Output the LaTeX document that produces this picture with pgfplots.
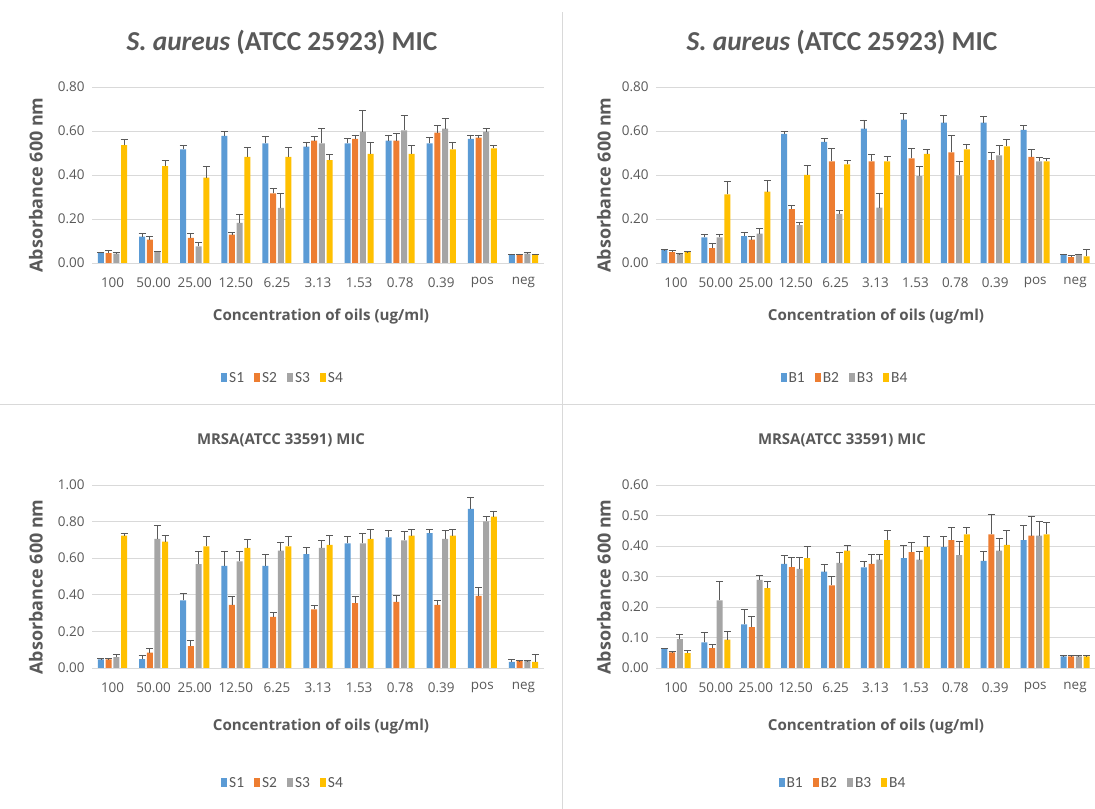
\documentclass[border=0pt]{standalone}
\usepackage{fontspec}
\setmainfont{Carlito}
\newfontfamily\labfont{Open Sans}
\usepackage{pgfplots}
\pgfplotsset{compat=1.18}
\usepackage{pgfplotstable}
\definecolor{c1}{HTML}{5B9BD5}
\definecolor{c2}{HTML}{ED7D31}
\definecolor{c3}{HTML}{A5A5A5}
\definecolor{c4}{HTML}{FFC000}
\definecolor{txt}{HTML}{595959}
\definecolor{gridc}{HTML}{D9D9D9}
\definecolor{errc}{HTML}{595959}

% x a ea b eb c ec d ed
\pgfplotstableread{
x a ea b eb c ec d ed
0 0.045 0.005 0.045 0.013 0.043 0.004 0.536 0.026
1 0.120 0.014 0.106 0.014 0.050 0.004 0.440 0.028
2 0.517 0.018 0.114 0.020 0.076 0.017 0.388 0.050
3 0.578 0.018 0.129 0.011 0.182 0.038 0.482 0.045
4 0.544 0.032 0.316 0.021 0.251 0.065 0.482 0.045
5 0.529 0.021 0.556 0.020 0.544 0.066 0.468 0.026
6 0.544 0.024 0.564 0.018 0.597 0.095 0.496 0.054
7 0.556 0.026 0.556 0.034 0.603 0.069 0.496 0.039
8 0.544 0.026 0.593 0.030 0.611 0.046 0.517 0.033
9 0.564 0.018 0.570 0.012 0.597 0.013 0.521 0.014
10 0.038 0.003 0.038 0.003 0.043 0.004 0.038 0.003
}\tA
\pgfplotstableread{
x a ea b eb c ec d ed
0 0.058 0.003 0.049 0.009 0.040 0.003 0.049 0.003
1 0.116 0.014 0.068 0.020 0.116 0.014 0.312 0.060
2 0.122 0.018 0.106 0.014 0.134 0.021 0.324 0.053
3 0.587 0.009 0.245 0.018 0.172 0.010 0.400 0.045
4 0.550 0.018 0.462 0.058 0.223 0.017 0.448 0.020
5 0.611 0.039 0.462 0.032 0.252 0.064 0.462 0.024
6 0.652 0.026 0.476 0.044 0.395 0.043 0.496 0.018
7 0.638 0.034 0.503 0.077 0.398 0.062 0.517 0.024
8 0.638 0.026 0.468 0.034 0.489 0.046 0.530 0.031
9 0.605 0.018 0.482 0.032 0.462 0.017 0.462 0.012
10 0.036 0.005 0.027 0.005 0.038 0.003 0.030 0.032
}\tB
\pgfplotstableread{
x a ea b eb c ec d ed
0 0.047 0.003 0.047 0.003 0.060 0.015 0.723 0.014
1 0.049 0.017 0.084 0.022 0.706 0.071 0.690 0.036
2 0.370 0.039 0.119 0.029 0.568 0.069 0.664 0.055
3 0.558 0.079 0.345 0.045 0.582 0.055 0.657 0.044
4 0.558 0.062 0.279 0.022 0.641 0.047 0.664 0.055
5 0.622 0.039 0.321 0.022 0.657 0.038 0.673 0.053
6 0.681 0.038 0.354 0.036 0.681 0.054 0.706 0.053
7 0.714 0.036 0.361 0.037 0.697 0.048 0.723 0.036
8 0.737 0.022 0.345 0.022 0.706 0.044 0.723 0.036
9 0.869 0.062 0.394 0.048 0.801 0.026 0.827 0.031
10 0.033 0.016 0.037 0.003 0.037 0.003 0.033 0.042
}\tC
\pgfplotstableread{
x a ea b eb c ec d ed
0 0.062 0.002 0.051 0.003 0.095 0.016 0.049 0.008
1 0.084 0.034 0.065 0.012 0.222 0.063 0.093 0.028
2 0.143 0.048 0.134 0.036 0.289 0.014 0.262 0.023
3 0.341 0.027 0.331 0.032 0.325 0.038 0.360 0.037
4 0.316 0.022 0.271 0.028 0.345 0.034 0.385 0.018
5 0.330 0.018 0.341 0.031 0.355 0.017 0.419 0.033
6 0.360 0.042 0.380 0.032 0.355 0.027 0.398 0.034
7 0.396 0.036 0.419 0.043 0.370 0.046 0.438 0.024
8 0.351 0.031 0.438 0.067 0.385 0.041 0.404 0.048
9 0.419 0.048 0.434 0.063 0.434 0.047 0.438 0.038
10 0.038 0.002 0.038 0.002 0.038 0.002 0.038 0.002
}\tD

\pgfplotsset{
  sq/.style={legend image code/.code={\fill[##1] (0bp,-4.5bp) rectangle (6bp,4.5bp);}},
  eb/.style={error bars/.cd, y dir=plus, y explicit,
    error bar style={color=errc, line width=0.9bp},
    error mark options={rotate=90, color=errc, line width=0.9bp, mark size=3.5bp}},
  panel/.style={
    scale only axis, anchor=south west,
    ybar=1.7bp, bar width=6bp,
    xmin=-0.5, xmax=10.5, xtick={0,...,10},
    xticklabels={100,50.00,25.00,12.50,6.25,3.13,1.53,0.78,0.39,pos,neg},
    ymin=0, ymajorgrids, major grid style={gridc, line width=0.9bp},
    axis line style={draw=none}, major tick length=0pt,
    tick label style={color=txt, font=\labfont\fontsize{13.5}{16}\selectfont},
    yticklabel style={xshift=-4bp, /pgf/number format/.cd, fixed, fixed zerofill, precision=2, assume math mode=true},
    xticklabel style={yshift=-11bp},
    legend columns=4,
    legend style={draw=none, fill=none, anchor=center, font=\fontsize{15.5}{17}\selectfont\color{txt},
      /tikz/every even column/.append style={column sep=8bp}},
    clip=false,
  },
}
\newcommand\bars[5]{%
  \addplot[fill=c1, draw=none, sq, eb] table[x=x, y=a, y error=ea] {#1};
  \addplot[fill=c2, draw=none, sq, eb] table[x=x, y=b, y error=eb] {#1};
  \addplot[fill=c3, draw=none, sq, eb] table[x=x, y=c, y error=ec] {#1};
  \addplot[fill=c4, draw=none, sq, eb] table[x=x, y=d, y error=ed] {#1};
  \legend{#2,#3,#4,#5}
}

\begin{document}
\begin{tikzpicture}[x=1bp,y=1bp]
\useasboundingbox[fill=white] (0,0) rectangle (1095,809);
\draw[gridc, line width=1bp] (562,0) -- (562,797);
\draw[gridc, line width=1bp] (0,404) -- (1095,404);

% panel 1
\begin{axis}[panel, at={(92bp,546bp)}, width=452bp, height=176bp,
  ymax=0.8, ytick={0,0.2,...,0.81},
  legend style={at={(0.4226,-0.653)}}]
  \bars{\tA}{S1}{S2}{S3}{S4}
\end{axis}
% panel 2
\begin{axis}[panel, at={(656bp,546bp)}, width=439bp, height=176bp,
  ymax=0.8, ytick={0,0.2,...,0.81},
  legend style={at={(0.4305,-0.653)}}]
  \bars{\tB}{B1}{B2}{B3}{B4}
\end{axis}
% panel 3
\begin{axis}[panel, at={(92bp,141bp)}, width=452bp, height=183bp,
  ymax=1.0, ytick={0,0.2,...,1.01},
  legend style={at={(0.4226,-0.628)}}]
  \bars{\tC}{S1}{S2}{S3}{S4}
\end{axis}
% panel 4
\begin{axis}[panel, at={(656bp,141bp)}, width=439bp, height=183bp,
  ymax=0.6, ytick={0,0.1,...,0.61},
  legend style={at={(0.4260,-0.628)}}]
  \bars{\tD}{B1}{B2}{B3}{B4}
\end{axis}

% titles
\node[text=txt, font=\fontsize{27.5}{30}\selectfont\bfseries] at (282,767) {\textit{S. aureus} (ATCC 25923) MIC};
\node[text=txt, font=\fontsize{27.5}{30}\selectfont\bfseries] at (842,767) {\textit{S. aureus} (ATCC 25923) MIC};
\node[text=txt, font=\labfont\fontsize{15}{20}\selectfont\bfseries] at (281,369) {MRSA(ATCC 33591) MIC};
\node[text=txt, font=\labfont\fontsize{15}{20}\selectfont\bfseries] at (842,369) {MRSA(ATCC 33591) MIC};
% y labels
\foreach \p/\q in {36/624, 604/624, 36/222, 604/222}
  \node[rotate=90, text=txt, font=\labfont\fontsize{18}{20}\selectfont\bfseries] at (\p,\q) {Absorbance 600 nm};
% x labels
\foreach \p/\q in {321/492, 876/492, 321/82, 876/82}
  \node[text=txt, font=\labfont\fontsize{15.2}{18}\selectfont\bfseries] at (\p,\q) {Concentration of oils (ug/ml)};
\end{tikzpicture}
\end{document}
